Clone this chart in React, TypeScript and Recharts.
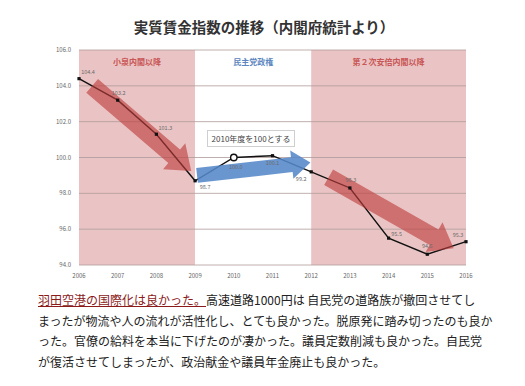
import { LabelList, Line, LineChart, ReferenceArea, ReferenceLine, XAxis, YAxis } from "recharts";

// 実質賃金指数（2010年度=100）
const YEARS = [2006, 2007, 2008, 2009, 2010, 2011, 2012, 2013, 2014, 2015, 2016];
const WAGE_INDEX = [104.4, 103.2, 101.3, 98.7, 100.0, 100.1, 99.2, 98.3, 95.5, 94.6, 95.3];
const Y_TICKS = [94, 96, 98, 100, 102, 104, 106];
const BASE_YEAR = 2010;

const ERA_NAMES = ["小泉内閣以降", "民主党政権", "第２次安倍内閣以降"];
const ERA_FROM = [2006, 2009, 2012];
const ERA_TO = [2009, 2012, 2016];
const ERA_KIND = ["down", "up", "down"];

// trend arrows: [x, y] in data units
const ARROW_FROM = [[2006.34, 104.0], [2009.05, 99.0], [2012.45, 98.9]];
const ARROW_TO = [[2008.9, 99.25], [2011.98, 99.72], [2015.68, 94.93]];
const ARROW_KIND = ["down", "up", "down"];

const KIND_STYLE: Record<string, { band: string; text: string; arrow: string; arrowWidth: number }> = {
  down: { band: "#eac4c4", text: "#c85656", arrow: "rgba(190,60,60,0.62)", arrowWidth: 18 },
  up: { band: "#ffffff", text: "#5b86c0", arrow: "rgba(85,135,200,0.88)", arrowWidth: 15 },
};

// label offsets [dx, dy] per point
const LABEL_OFFSETS = [
  [9, -6], [1, -7], [9, -6], [10, 7], [2, 10], [0, 8],
  [-10, 8], [1, -7], [8, -4], [0, -8], [-8, -6],
];

const data = YEARS.map((year, i) => ({ year, value: WAGE_INDEX[i] }));

function arrowShape(width: number, fill: string) {
  return (p: any) => {
    const { x1, y1, x2, y2 } = p;
    const dx = x2 - x1;
    const dy = y2 - y1;
    const len = Math.hypot(dx, dy) || 1;
    const ux = dx / len;
    const uy = dy / len;
    const nx = -uy;
    const ny = ux;
    const hw = width / 2;
    const headW = width * 0.95;
    const headL = width * 1.25;
    const bx = x2 - ux * headL;
    const by = y2 - uy * headL;
    const pts = [
      [x1 + nx * hw, y1 + ny * hw],
      [bx + nx * hw, by + ny * hw],
      [bx + nx * headW, by + ny * headW],
      [x2, y2],
      [bx - nx * headW, by - ny * headW],
      [bx - nx * hw, by - ny * hw],
      [x1 - nx * hw, y1 - ny * hw],
    ];
    return <polygon points={pts.map((q) => q.join(",")).join(" ")} fill={fill} />;
  };
}

function PointDot(props: any) {
  const { cx, cy, payload } = props;
  if (payload.year === BASE_YEAR) {
    return <circle key={`d${payload.year}`} cx={cx} cy={cy} r={3.2} fill="#fff" stroke="#111" strokeWidth={1.4} />;
  }
  return <rect key={`d${payload.year}`} x={cx - 1.6} y={cy - 1.6} width={3.2} height={3.2} fill="#111" />;
}

function PointLabel(props: any) {
  const { x, y, value, index } = props;
  const [dx, dy] = LABEL_OFFSETS[index] ?? [0, -6];
  return (
    <text x={x + dx} y={y + dy} textAnchor="middle" dominantBaseline="middle" fontSize={5.5} fill="#6a6a6a">
      {Number(value).toFixed(1)}
    </text>
  );
}

const FONT = '"Noto Sans CJK JP", "Noto Sans", sans-serif';

export default function App() {
  return (
    <div style={{ position: "absolute", left: 0, top: 0, width: 525, height: 386, background: "#fff", fontFamily: FONT }}>
      <div
        style={{
          position: "absolute",
          top: 17,
          left: 0,
          width: 528,
          textAlign: "center",
          fontSize: 14.5,
          fontWeight: 700,
          color: "#333",
          lineHeight: "20px",
        }}
      >
        実質賃金指数の推移（内閣府統計より）
      </div>

      <div style={{ position: "absolute", left: 0, top: 0 }}>
        <LineChart width={525} height={290} data={data} margin={{ top: 50, right: 59, bottom: 10, left: 59 }}>
          {ERA_NAMES.map((name, i) => {
            const st = KIND_STYLE[ERA_KIND[i]];
            return (
              <ReferenceArea
                key={name}
                x1={ERA_FROM[i]}
                x2={ERA_TO[i]}
                y1={94}
                y2={106}
                fill={st.band}
                fillOpacity={1}
                stroke="none"
                label={{ value: name, position: "insideTop", offset: 9, fontSize: 8, fill: st.text, fontWeight: 700 }}
              />
            );
          })}
          {Y_TICKS.map((t) => (
            <ReferenceLine key={`g${t}`} y={t} stroke="#b09a9a" strokeWidth={0.8} />
          ))}
          <XAxis
            dataKey="year"
            type="number"
            domain={[2006, 2016]}
            ticks={YEARS}
            axisLine={false}
            tickLine={false}
            height={15}
            tick={{ fontSize: 6, fill: "#666" }}
            tickMargin={3}
          />
          <YAxis
            domain={[94, 106]}
            ticks={Y_TICKS}
            axisLine={false}
            tickLine={false}
            width={20}
            tick={{ fontSize: 6, fill: "#666" }}
            tickFormatter={(v) => Number(v).toFixed(1)}
          />
          <Line
            dataKey="value"
            stroke="#111"
            strokeWidth={1.4}
            dot={PointDot}
            activeDot={false}
            isAnimationActive={false}
          >
            <LabelList dataKey="value" content={PointLabel} />
          </Line>
          {ARROW_KIND.map((kind, i) => {
            const st = KIND_STYLE[kind];
            return (
              <ReferenceLine
                key={`arrow${i}`}
                segment={[
                  { x: ARROW_FROM[i][0], y: ARROW_FROM[i][1] },
                  { x: ARROW_TO[i][0], y: ARROW_TO[i][1] },
                ]}
                shape={arrowShape(st.arrowWidth, st.arrow)}
              />
            );
          })}
        </LineChart>
      </div>

      <div
        style={{
          position: "absolute",
          left: 207,
          top: 130,
          width: 86,
          height: 15,
          border: "1px solid #cfcfcf",
          background: "#fff",
          fontSize: 8,
          lineHeight: "15px",
          textAlign: "center",
          color: "#444",
        }}
      >
        2010年度を100とする
      </div>

      <div
        style={{
          position: "absolute",
          left: 38,
          top: 290,
          fontSize: 12,
          lineHeight: "20.5px",
          color: "#222",
          whiteSpace: "nowrap",
        }}
      >
        <span style={{ color: "#8b1a1a", textDecoration: "underline" }}>羽田空港の国際化は良かった。</span>
        高速道路1000円は 自民党の道路族が撤回させてし
        <br />
        まったが物流や人の流れが活性化し、とても良かった。脱原発に踏み切ったのも良か
        <br />
        った。官僚の給料を本当に下げたのが凄かった。議員定数削減も良かった。自民党
        <br />
        が復活させてしまったが、政治献金や議員年金廃止も良かった。
      </div>
    </div>
  );
}
